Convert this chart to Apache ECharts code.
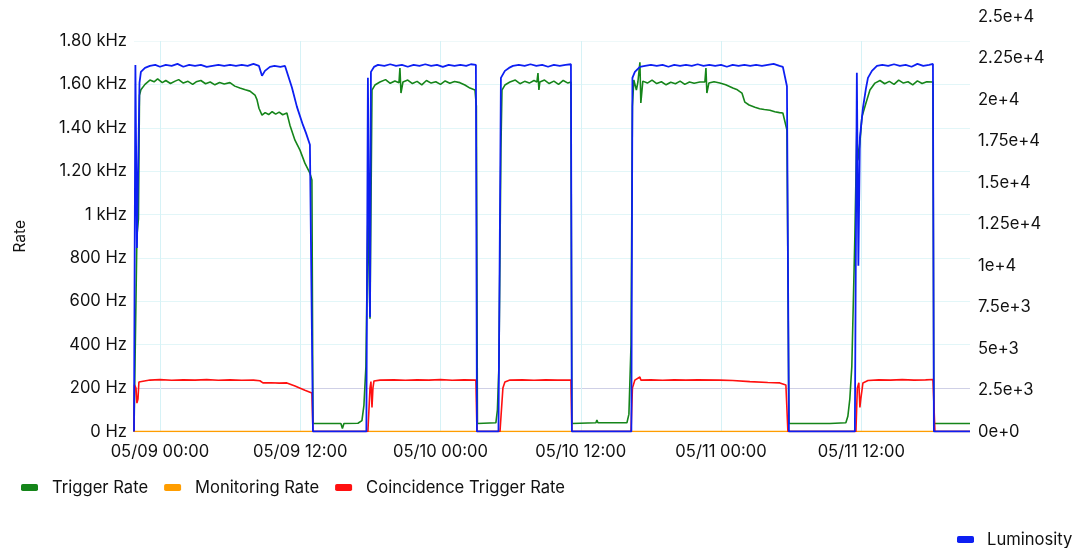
<!DOCTYPE html>
<html>
<head>
<meta charset="utf-8">
<script src="https://cdn.jsdelivr.net/npm/echarts@6/dist/echarts.min.js"></script>
<style>
  html, body { margin: 0; padding: 0; background: #fff; }
  #chart { width: 1074px; height: 548px; }
</style>
</head>
<body>
<div id="chart"></div>
<script>
// hours are counted from 05/09 00:00
const startDay = new Date(2024, 4, 9, 0, 0, 0).getTime();
const xStartHour = -2.22;
const xEndHour = 69.3;
const xTickHours = [0, 12, 24, 36, 48, 60];

const leftTicks = [0, 200, 400, 600, 800, 1000, 1200, 1400, 1600, 1800];
const rightTicks = [0, 2500, 5000, 7500, 10000, 12500, 15000, 17500, 20000, 22500, 25000];

// [hour, Hz]
const triggerRate = [
  [-2.22,0],[-2.05,0],[-1.97,900],[-1.84,980],[-1.75,1550],[-1.63,1575],[-1.28,1600],[-0.86,1620],
  [-0.5,1612],[-0.2,1625],[0.2,1608],[0.5,1618],[0.9,1604],[1.3,1615],[1.6,1622],[2.0,1606],[2.4,1614],
  [2.8,1600],[3.1,1612],[3.5,1618],[3.9,1603],[4.3,1611],[4.7,1598],[5.1,1609],[5.5,1602],[5.99,1608],
  [6.4,1592],[6.84,1583],[7.3,1575],[7.7,1569],[8.13,1551],[8.3,1530],[8.47,1490],[8.73,1458],[9.0,1470],
  [9.3,1461],[9.6,1474],[9.9,1463],[10.2,1472],[10.5,1460],[10.86,1468],[11.12,1412],[11.55,1343],
  [11.98,1297],[12.4,1237],[12.83,1191],[13.0,1159],[13.09,37],[15.48,37],[15.61,14],[15.74,37],
  [16.94,38],[17.28,50],[17.45,120],[17.62,300],[17.79,1000],[17.97,520],[18.14,1574],[18.39,1597],
  [18.82,1611],[19.3,1622],[19.7,1605],[20.1,1616],[20.45,1608],[20.53,1675],[20.62,1560],[20.79,1611],
  [21.2,1620],[21.6,1604],[22.0,1614],[22.4,1598],[22.8,1618],[23.2,1606],[23.6,1612],[24.0,1600],
  [24.4,1616],[24.8,1605],[25.2,1613],[25.66,1608],[26.09,1597],[26.52,1583],[26.95,1574],[27.07,1500],
  [27.16,37],[28.74,40],[28.87,100],[29.0,300],[29.17,1300],[29.26,1574],[29.51,1597],[29.94,1611],
  [30.4,1620],[30.8,1603],[31.2,1614],[31.6,1606],[32.0,1618],[32.25,1611],[32.34,1652],[32.42,1574],
  [32.5,1611],[32.9,1620],[33.3,1604],[33.7,1615],[34.1,1600],[34.5,1618],[34.9,1606],[35.16,1611],
  [35.24,37],[37.3,40],[37.38,53],[37.47,40],[39.95,40],[40.12,80],[40.3,400],[40.42,1500],[40.54,1620],
  [40.76,1574],[40.89,1611],[41.06,1702],[41.14,1514],[41.31,1615],[41.7,1606],[42.1,1620],[42.5,1604],
  [42.9,1612],[43.3,1598],[43.7,1610],[44.1,1603],[44.5,1615],[44.9,1600],[45.3,1611],[45.7,1605],
  [46.19,1611],[46.62,1611],[46.71,1675],[46.79,1560],[46.96,1606],[47.4,1612],[47.9,1606],[48.4,1598],
  [49.01,1583],[49.4,1575],[49.79,1560],[50.04,1518],[50.4,1505],[50.9,1495],[51.3,1488],[51.7,1484],
  [52.18,1481],[52.6,1474],[53.0,1470],[53.29,1468],[53.64,1389],[53.81,37],[56.97,37],[57.14,28],
  [57.31,37],[58.68,40],[58.85,70],[59.02,150],[59.19,300],[59.45,900],[59.62,1400],[59.71,1250],
  [59.88,1330],[60.05,1449],[60.4,1514],[60.74,1574],[61.17,1606],[61.6,1618],[62.0,1603],[62.4,1614],
  [62.8,1600],[63.2,1620],[63.6,1606],[64.0,1612],[64.4,1598],[64.8,1616],[65.2,1604],[65.6,1612],
  [66.13,1611],[66.21,37],[69.3,37]
];

const monitoringRate = [[-2.22,0],[69.3,0]];

const coincidenceRate = [
  [-2.22,0],[-2.18,215],[-2.05,200],[-1.97,131],[-1.88,150],[-1.8,228],[-1.63,233],[-0.86,237],
  [0,239],[1,236],[2,238],[3,237],[4,239],[5,236],[6,238],[7,236],[8,237],[8.55,234],[8.81,224],
  [9.5,225],[10.2,223],[10.86,224],[11.55,210],[12.4,190],[13.0,177],[13.09,0],[17.79,0],[17.97,200],
  [18.05,230],[18.14,111],[18.22,200],[18.31,233],[18.82,237],[20,238],[21,236],[22,238],[23,237],
  [24,239],[25,236],[26,238],[27.03,237],[27.12,0],[29.09,0],[29.34,200],[29.51,228],[29.94,237],
  [31,238],[32,236],[33,238],[34,237],[35.16,237],[35.24,0],[40.3,0],[40.42,200],[40.63,237],
  [40.76,228],[41.06,251],[41.14,237],[42,238],[43,236],[44,238],[45,237],[46,238],[47.9,237],
  [49,235],[50.47,230],[52,226],[53.03,224],[53.55,214],[53.72,0],[59.54,0],[59.66,200],[59.79,225],
  [59.88,111],[59.96,150],[60.14,224],[60.57,235],[61.5,238],[62.5,237],[63.5,239],[64.5,237],
  [65.5,238],[66.13,240],[66.3,0],[69.3,0]
];

// right axis
const luminosity = [
  [-2.22,0],[-2.1,22100],[-1.97,11070],[-1.75,21030],[-1.63,21690],[-1.28,21930],[-0.86,22050],
  [-0.4,22110],[0,22000],[0.5,22110],[1.0,22050],[1.5,22170],[2.0,22000],[2.5,22110],[3.0,22050],
  [3.5,22110],[4.0,21990],[4.5,22050],[5.0,22110],[5.5,22050],[6.0,22110],[6.5,22050],[7.0,22110],
  [7.5,22050],[8.0,22170],[8.47,22050],[8.73,21450],[8.98,21750],[9.41,21990],[9.8,22050],[10.3,21990],
  [10.7,22050],[10.86,22170],[11.29,20750],[11.72,19580],[12.23,18490],[12.49,18010],[12.83,17290],
  [13.0,17170],[13.09,0],[17.66,0],[17.79,21330],[17.97,6910],[18.05,21690],[18.31,21990],[18.65,22110],
  [19.2,22050],[19.7,22150],[20.2,22050],[20.7,22110],[21.2,22000],[21.7,22110],[22.2,22050],
  [22.7,22150],[23.2,22050],[23.7,22110],[24.2,21990],[24.7,22110],[25.2,22050],[25.7,22110],
  [26.2,22050],[26.6,22150],[27.03,22110],[27.12,0],[28.96,0],[29.17,21330],[29.51,21750],[29.86,21930],
  [30.2,22050],[30.7,22110],[31.2,22050],[31.7,22150],[32.2,22050],[32.7,22110],[33.2,22000],
  [33.7,22110],[34.2,22050],[34.7,22110],[35.16,22150],[35.24,0],[40.33,0],[40.42,21330],[40.63,21690],
  [41.06,21990],[41.5,22050],[42.0,22110],[42.5,22050],[43.0,22110],[43.5,22000],[44.0,22110],
  [44.5,22050],[45.0,22110],[45.5,22050],[46.0,22150],[46.5,22050],[47.0,22110],[47.5,22050],
  [48.0,22110],[48.5,22000],[49.0,22110],[49.5,22050],[50.0,22110],[50.5,22050],[51.0,22110],
  [51.5,22050],[52.0,22110],[52.5,22170],[53.0,22050],[53.29,21990],[53.64,20820],[53.81,0],[59.45,0],
  [59.62,21630],[59.75,10000],[59.88,17700],[60.14,19500],[60.4,20700],[60.57,21330],[60.91,21750],
  [61.34,22050],[61.8,22110],[62.3,22050],[62.8,22150],[63.3,22050],[63.8,22110],[64.3,22000],
  [64.8,22170],[65.3,22050],[65.8,22110],[66.13,22170],[66.21,0],[69.3,0]
];

const HOUR = 3600 * 1000;
const font = 'Inter, "Noto Sans", sans-serif';
const labelSize = 16.6;

function hzLabel(v) {
  if (v >= 1000) return (v === 1000 ? '1' : (v / 1000).toFixed(2)) + ' kHz';
  return v + ' Hz';
}
function expLabel(v) {
  if (v === 0) return '0e+0';
  const e = Math.floor(Math.log10(v));
  const m = +(v / Math.pow(10, e)).toFixed(3);
  return m + 'e+' + e;
}
const pad = (n) => (n < 10 ? '0' : '') + n;
function timeLabel(h) {
  const d = new Date(startDay + h * HOUR);
  return pad(d.getMonth() + 1) + '/' + pad(d.getDate()) + ' ' + pad(d.getHours()) + ':' + pad(d.getMinutes());
}

const chart = echarts.init(document.getElementById('chart'));

chart.setOption({
  animation: false,
  textStyle: { fontFamily: font },
  grid: [
    { left: 134, width: 836, top: 41, height: 390.5 },  // Hz axis
    { left: 134, width: 836, top: 17, height: 414.5 }   // luminosity axis
  ],
  legend: [
    {
      data: ['Trigger Rate', 'Monitoring Rate', 'Coincidence Trigger Rate'],
      left: 16, top: 474,
      icon: 'roundRect', itemWidth: 17, itemHeight: 7, itemGap: 16,
      textStyle: { fontFamily: font, fontSize: labelSize, color: '#111', padding: [0, 0, 0, 9] }
    },
    {
      data: ['Luminosity'],
      left: 952, top: 526,
      icon: 'roundRect', itemWidth: 17, itemHeight: 7,
      textStyle: { fontFamily: font, fontSize: labelSize, color: '#111', padding: [0, 0, 0, 8] }
    }
  ],
  xAxis: [
    {
      type: 'value', gridIndex: 0, min: xStartHour, max: xEndHour,
      axisLine: { show: false },
      axisTick: { show: false, customValues: xTickHours },
      axisLabel: {
        customValues: xTickHours,
        fontFamily: font, fontSize: labelSize, color: '#111', margin: 12,
        formatter: timeLabel
      },
      splitLine: { show: true, lineStyle: { color: '#d6f2f6', width: 1 } }
    },
    {
      type: 'value', gridIndex: 1, min: xStartHour, max: xEndHour, show: false
    }
  ],
  yAxis: [
    {
      type: 'value', gridIndex: 0, min: 0, max: 1800, interval: 200,
      name: 'Rate', nameLocation: 'middle', nameGap: 106, nameRotate: 90,
      nameTextStyle: { fontFamily: font, fontSize: 15.5, color: '#111' },
      axisLine: { show: false },
      axisTick: { show: false },
      axisLabel: { fontFamily: font, fontSize: labelSize, color: '#111', margin: 7, formatter: hzLabel },
      splitLine: {
        lineStyle: {
          color: ['#e2f6f8', '#cfd0e6', '#e2f6f8', '#e2f6f8', '#e2f6f8', '#e2f6f8', '#e2f6f8', '#e2f6f8', '#e2f6f8', '#eef8f9']
        }
      }
    },
    {
      type: 'value', gridIndex: 1, position: 'right', min: 0, max: 25000, interval: 2500,
      axisLine: { show: false },
      axisTick: { show: false },
      axisLabel: { fontFamily: font, fontSize: labelSize, color: '#111', margin: 8, formatter: expLabel },
      splitLine: { show: false }
    }
  ],
  series: [
    {
      name: 'Trigger Rate', type: 'line', xAxisIndex: 0, yAxisIndex: 0,
      data: triggerRate, showSymbol: false, symbol: 'none',
      lineStyle: { color: '#15851a', width: 1.6 }, itemStyle: { color: '#15851a' }
    },
    {
      name: 'Monitoring Rate', type: 'line', xAxisIndex: 0, yAxisIndex: 0,
      data: monitoringRate, showSymbol: false, symbol: 'none',
      lineStyle: { color: '#ff9d00', width: 1.6 }, itemStyle: { color: '#ff9d00' }
    },
    {
      name: 'Coincidence Trigger Rate', type: 'line', xAxisIndex: 0, yAxisIndex: 0,
      data: coincidenceRate, showSymbol: false, symbol: 'none',
      lineStyle: { color: '#ff1010', width: 1.6 }, itemStyle: { color: '#ff1010' }
    },
    {
      name: 'Luminosity', type: 'line', xAxisIndex: 1, yAxisIndex: 1,
      data: luminosity, showSymbol: false, symbol: 'none',
      lineStyle: { color: '#0d1ff2', width: 1.8 }, itemStyle: { color: '#0d1ff2' }
    }
  ]
});
</script>
</body>
</html>
